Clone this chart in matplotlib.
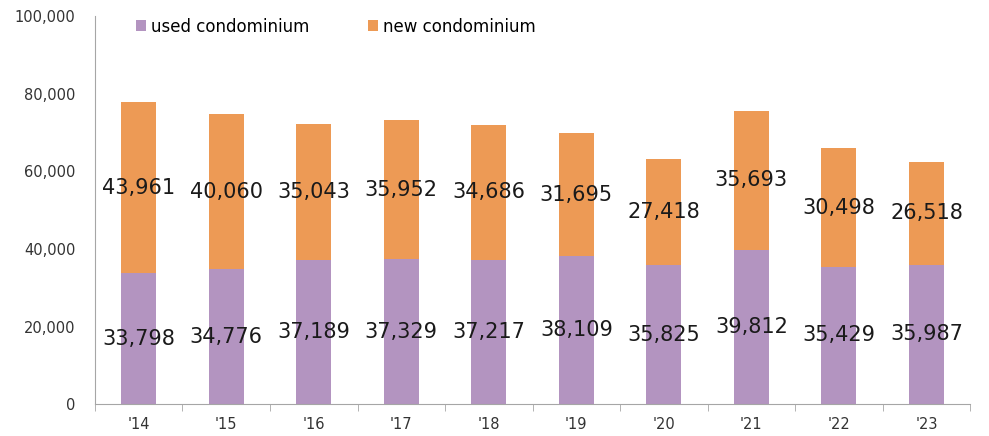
import numpy as np
import matplotlib.pyplot as plt
from matplotlib.ticker import FuncFormatter

plt.rcParams["font.family"] = ["DejaVu Sans"]

years = ["'14", "'15", "'16", "'17", "'18", "'19", "'20", "'21", "'22", "'23"]
used = [33798, 34776, 37189, 37329, 37217, 38109, 35825, 39812, 35429, 35987]
new = [43961, 40060, 35043, 35952, 34686, 31695, 27418, 35693, 30498, 26518]

USED_COLOR = "#B394C0"
NEW_COLOR = "#ED9A55"
AXIS_COLOR = "#A6A6A6"

fig = plt.figure(figsize=(9.89, 4.36), dpi=100)
ax = fig.add_axes([0.096, 0.073, 0.885, 0.89])

x = np.arange(len(years))
ax.bar(x, used, width=0.4, color=USED_COLOR, label="used condominium")
ax.bar(x, new, width=0.4, bottom=used, color=NEW_COLOR, label="new condominium")

# 数据标签放在各段中间
for xi, u, n in zip(x, used, new):
    ax.text(xi, u / 2, f"{u:,}", ha="center", va="center", fontsize=15, color="#1a1a1a")
    ax.text(xi, u + n / 2, f"{n:,}", ha="center", va="center", fontsize=15, color="#1a1a1a")

ax.set_xlim(-0.5, len(years) - 0.5)
ax.set_ylim(0, 100000)
ax.set_yticks(np.arange(0, 100001, 20000))
ax.yaxis.set_major_formatter(FuncFormatter(lambda v, p: f"{int(v):,}"))
ax.set_xticks(x)
ax.set_xticklabels(years)
ax.set_xticks(np.arange(-0.5, len(years), 1.0), minor=True)
ax.tick_params(axis="x", which="major", length=0, pad=9, labelsize=10.5, colors="#333333")
ax.tick_params(axis="x", which="minor", length=5, color=AXIS_COLOR, direction="out")
ax.tick_params(axis="y", length=0, pad=14, labelsize=10.5, colors="#333333")

for s in ["top", "right"]:
    ax.spines[s].set_visible(False)
ax.spines["left"].set_color(AXIS_COLOR)
ax.spines["bottom"].set_color(AXIS_COLOR)

ax.legend(loc="upper left", bbox_to_anchor=(0.03, 1.035), ncol=2, frameon=False,
          fontsize=12, handlelength=0.6, handleheight=0.6, handletextpad=0.3,
          columnspacing=3.5)

fig.savefig("out.png", dpi=100)
